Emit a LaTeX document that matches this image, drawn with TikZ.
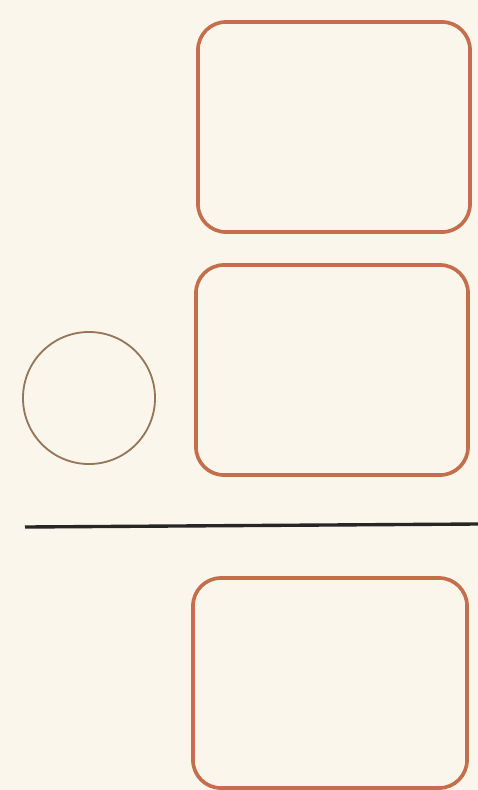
\documentclass[tikz,border=0pt]{standalone}
\usetikzlibrary{positioning}
\definecolor{paper}{RGB}{250,246,236}
\definecolor{boxedge}{RGB}{196,110,76}
\definecolor{ringedge}{RGB}{150,118,88}
\begin{document}
\begin{tikzpicture}[
  x=0.025cm, y=-0.025cm,
  card/.style={
    draw=boxedge,
    line width=2.6pt,
    rounded corners=0.7cm,
    minimum width=6.8cm,
    minimum height=5.25cm
  },
  ring/.style={
    draw=ringedge,
    circle,
    line width=1.3pt,
    minimum size=3.3cm
  },
  rule/.style={line width=2.4pt, black!85}
]
\fill[paper] (0,0) rectangle (478,790);
\useasboundingbox (0,0) rectangle (478,790);
\node[card] (top) at (334,127) {};
\node[card] (middle) at (332,370) {};
\node[card, minimum width=6.85cm] (bottom) at (330,683) {};
\node[ring] (dot) at (89,398) {};
\coordinate (ruleL) at (25,527);
\coordinate (ruleR) at (478,524);
\draw[rule] (ruleL) -- (ruleR);
\end{tikzpicture}
\end{document}
